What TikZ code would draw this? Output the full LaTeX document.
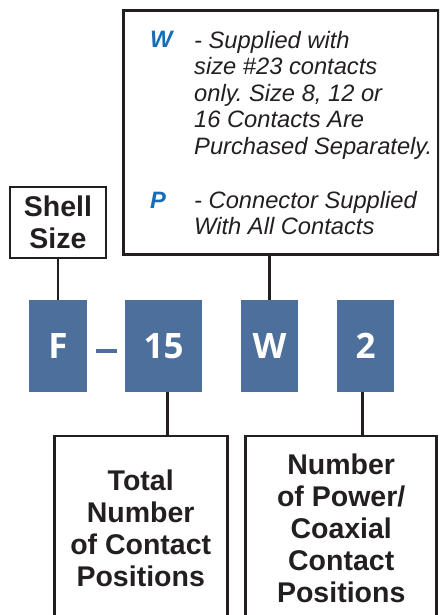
\documentclass[tikz,border=0pt]{standalone}
\usepackage{fontspec}
\setmainfont{Liberation Sans}
\newfontfamily\partfont{Open Sans}
\usepackage{xcolor}
\definecolor{partblue}{RGB}{76,111,155}
\definecolor{keyblue}{RGB}{22,108,181}
\definecolor{ink}{RGB}{35,31,32}
\frenchspacing

\begin{document}
\begin{tikzpicture}[x=1pt, y=-1pt,
        partbox/.style={fill=partblue, text=white, inner sep=0, minimum height=92,
            font=\partfont\bfseries\fontsize{35}{35}\selectfont},
        tagbox/.style={draw=ink, line width=2.6, inner sep=0, text=ink, align=center,
            font=\bfseries\fontsize{28.5}{32}\selectfont},
        codeletter/.style={anchor=base west, inner sep=0, text=keyblue,
            font=\bfseries\itshape\fontsize{23.7}{26.5}\selectfont},
        keytext/.style={anchor=north west, inner sep=0, text=ink, align=left,
            font=\itshape\fontsize{23.7}{26.5}\selectfont},
        leader/.style={draw=ink, line width=2.6}]
    \useasboundingbox (0,0) rectangle (439,615);
    \clip (0,0) rectangle (439,615);

    \node[partbox, minimum width=58] (f) at (58,346) {F};
    \node[fill=partblue, inner sep=0, minimum width=21, minimum height=3.5] (dash) at (106.5,351) {};
    \node[partbox, minimum width=77] (n15) at (163.7,346) {15};
    \node[partbox, minimum width=57] (w) at (269.5,346) {W};
    \node[partbox, minimum width=57] (n2) at (365.5,346) {2};

    \node[tagbox, minimum width=96, minimum height=71] (shell) at (58,222.5) {Shell\\Size};
    \node[draw=ink, line width=2.6, inner sep=0, minimum width=315, minimum height=243.6] (legend) at (281,132.5) {};
    \node[codeletter] (wkey) at (150,48) {W};
    \node[keytext] (wtext) at (194,30.7) {- Supplied with\\size \#23 contacts\\only. Size 8, 12 or\\16 Contacts Are\\Purchased Separately.};
    \node[codeletter] (pkey) at (150,208) {P};
    \node[keytext] (ptext) at (194,190.7) {- Connector Supplied\\With All Contacts};

    \node[tagbox, minimum width=173, minimum height=184] (total) at (140.7,528) {Total\\Number\\of Contact\\Positions};
    \node[tagbox, minimum width=191, minimum height=184] (power) at (341.2,528) {Number\\of Power/\\Coaxial\\Contact\\Positions};

    \draw[leader] (shell) -- (f);
    \draw[leader] (w.north) -- (w.north |- legend.south);
    \draw[leader] ([xshift=4]n15.south) -- ([xshift=4]n15.south |- total.north);
    \draw[leader] ([xshift=-3]n2.south) -- ([xshift=-3]n2.south |- power.north);
\end{tikzpicture}
\end{document}
